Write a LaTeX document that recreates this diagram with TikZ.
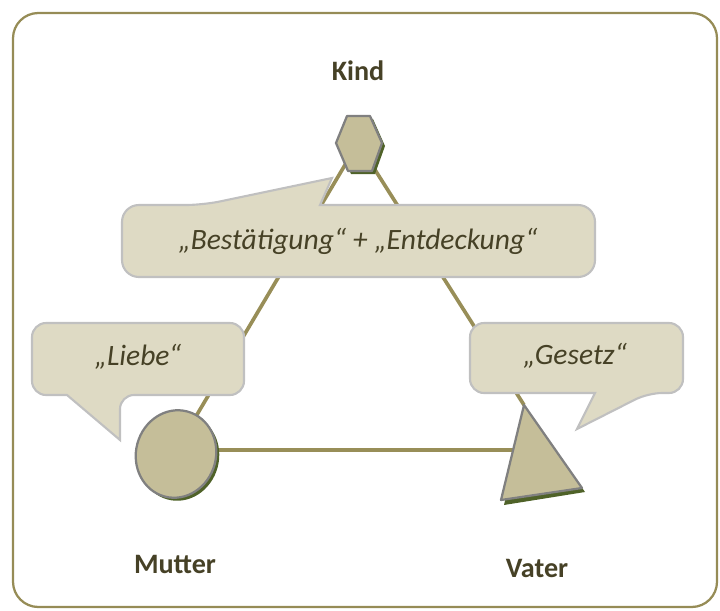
\documentclass[tikz,border=0pt]{standalone}
\usepackage{fontspec}
\setmainfont{Carlito}
\usetikzlibrary{positioning}

\definecolor{frameolive}{RGB}{150,140,86}
\definecolor{linkolive}{RGB}{152,142,88}
\definecolor{shapefill}{RGB}{197,190,153}
\definecolor{shapeedge}{RGB}{128,128,128}
\definecolor{shadowgreen}{RGB}{79,98,40}
\definecolor{bubblefill}{RGB}{222,218,196}
\definecolor{bubbleedge}{RGB}{192,192,192}
\definecolor{textolive}{RGB}{70,65,38}

\tikzset{
	frame/.style = {draw = frameolive, line width = 1.6pt, rounded corners = 18pt},
	link/.style = {draw = linkolive, line width = 2.6pt},
	figure/.style = {fill = shapefill, draw = shapeedge, line width = 1.6pt, line join = round},
	shadow/.style = {fill = shadowgreen},
	bubble/.style = {fill = bubblefill, draw = bubbleedge, line width = 1.5pt},
	role/.style = {text = textolive, font = \fontsize{20}{24}\selectfont\bfseries},
	saying/.style = {text = textolive, font = \fontsize{21}{25}\selectfont\itshape}
}

\begin{document}
\begin{tikzpicture}[x = 0.025cm, y = -0.025cm]
	\useasboundingbox (0, 0) rectangle (720, 610);
	\draw[frame] (13, 13) rectangle (717, 607);

	% corners of the triangle
	\coordinate (kind) at (358, 143);
	\coordinate (mutter) at (176, 450);
	\coordinate (vater) at (524, 405);

	\draw[link] (kind) -- (mutter);
	\draw[link] (kind) -- (vater);
	\draw[link] (mutter) -- (mutter -| vater);

	% Kind
	\fill[shadow] (350, 119) -- (373, 119) -- (385, 146) -- (375, 174) -- (351, 174) -- (339, 146) -- cycle;
	\draw[figure] (347, 116) -- (370, 116) -- (382, 143) -- (372, 171) -- (348, 171) -- (336, 143) -- cycle;

	% Mutter
	\fill[shadow, rotate around = {-15:(179, 457)}] (179, 457) ellipse (40 and 44);
	\draw[figure, rotate around = {-15:(176, 454)}] (176, 454) ellipse (40 and 44);

	% Vater
	\fill[shadow] (526, 409) -- (504, 505) -- (585, 492) -- cycle;
	\draw[figure] (vater) -- (501, 500) -- (582, 488) -- cycle;

	% speech bubbles
	\draw[bubble] (122, 241) [rounded corners = 12pt] -- (122, 205) -- (203, 205) [sharp corners] -- (332, 178) -- (320, 205) [rounded corners = 12pt] -- (595, 205) -- (595, 277) -- (122, 277) -- cycle;
	\draw[bubble] (32, 359) [rounded corners = 10pt] -- (32, 323) -- (244, 323) -- (244, 395) -- (120, 395) [sharp corners] -- (120, 440) -- (67, 395) [rounded corners = 10pt] -- (32, 395) -- cycle;
	\draw[bubble] (470, 358) [rounded corners = 10pt] -- (470, 323) -- (683, 323) -- (683, 393) -- (648, 393) [sharp corners] -- (577, 429) -- (595, 393) [rounded corners = 10pt] -- (470, 393) -- cycle;

	\node[saying] (both) at (358, 241) {„Bestätigung“ + „Entdeckung“};
	\node[saying] (liebe) at (138, 357) {„Liebe“};
	\node[saying] (gesetz) at (575, 356) {„Gesetz“};

	\node[role] (kindlbl) at (358, 71) {Kind};
	\node[role] (mutterlbl) at (175, 564) {Mutter};
	\node[role] (vaterlbl) at (537, 568) {Vater};
\end{tikzpicture}
\end{document}
